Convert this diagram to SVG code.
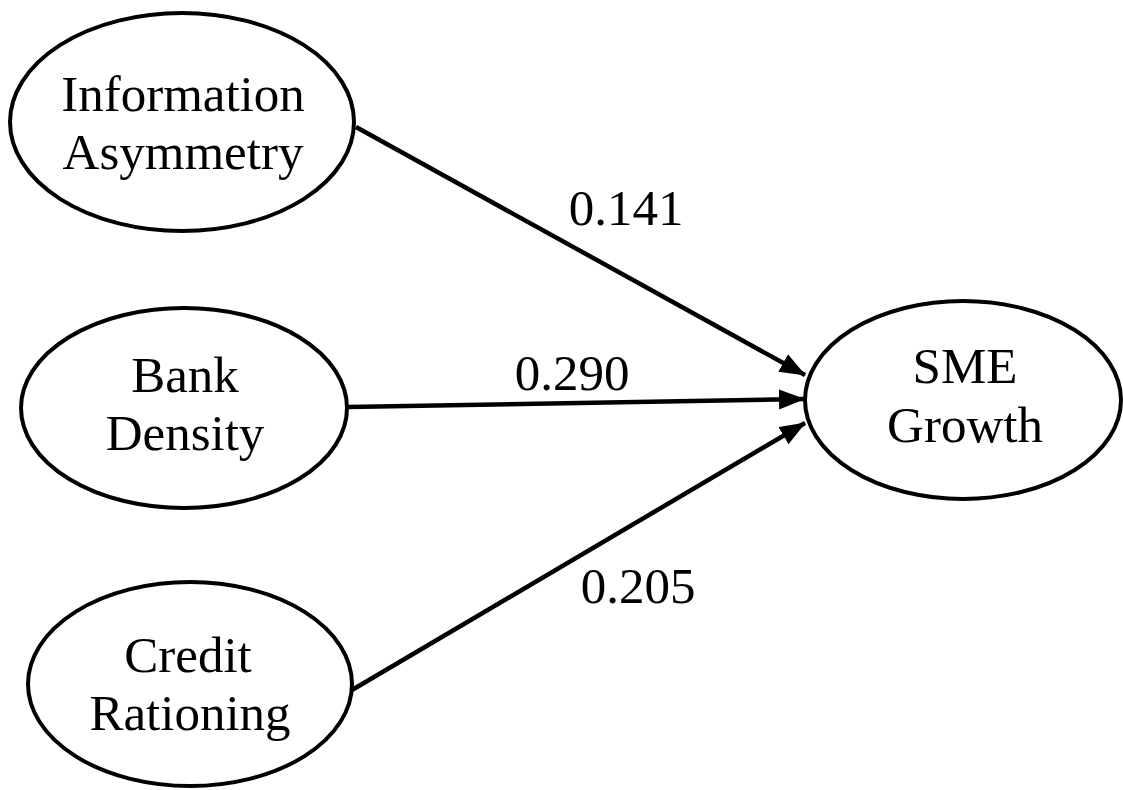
<svg xmlns="http://www.w3.org/2000/svg" width="1123" height="790" viewBox="0 0 1123 790">
<style>
.node ellipse{fill:#fff;stroke:#000;stroke-width:4}
.node text,.lbl{font-family:"Liberation Serif","Times New Roman",serif;font-size:51px;fill:#000;text-anchor:middle}
.edge{stroke:#000;stroke-width:4.5;fill:none}
</style>
<defs>
<marker id="ah" markerUnits="userSpaceOnUse" markerWidth="28" markerHeight="22" refX="25" refY="10" orient="auto">
<path d="M0,0 L26,10 L0,20 Z" fill="#000"/>
</marker>
</defs>
<rect width="1123" height="790" fill="#fff"/>
<g id="connectors">
<line class="edge" x1="356" y1="127" x2="805" y2="375" marker-end="url(#ah)"/>
<line class="edge" x1="348" y1="407" x2="804" y2="399" marker-end="url(#ah)"/>
<line class="edge" x1="352" y1="690" x2="805" y2="423" marker-end="url(#ah)"/>
<text class="lbl" x="626" y="225">0.141</text>
<text class="lbl" x="572" y="390">0.290</text>
<text class="lbl" x="638" y="603">0.205</text>
</g>
<g id="info" class="node">
<ellipse cx="182" cy="122" rx="172" ry="109"/>
<text x="183" y="111">Information</text>
<text x="183" y="169">Asymmetry</text>
</g>
<g id="bank" class="node">
<ellipse cx="184" cy="408" rx="163" ry="100"/>
<text x="185" y="392">Bank</text>
<text x="185" y="450">Density</text>
</g>
<g id="credit" class="node">
<ellipse cx="190" cy="684" rx="162" ry="102"/>
<text x="188" y="672">Credit</text>
<text x="190" y="730">Rationing</text>
</g>
<g id="sme" class="node">
<ellipse cx="963" cy="400" rx="158" ry="99"/>
<text x="965" y="383">SME</text>
<text x="965" y="442">Growth</text>
</g>
</svg>
